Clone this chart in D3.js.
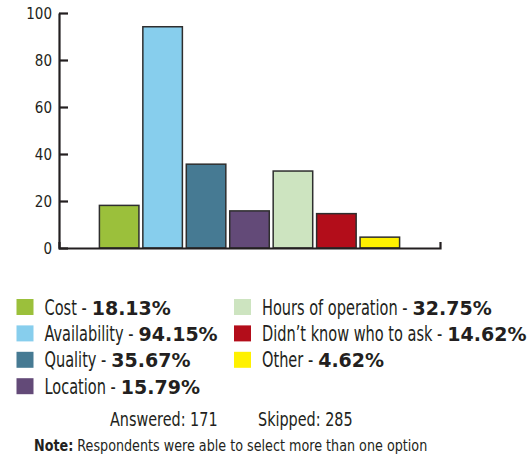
<!DOCTYPE html>
<html>
<head>
<meta charset="utf-8">
<script src="https://cdn.jsdelivr.net/npm/d3@7"></script>
<style>
  body { margin: 0; background: #fff; }
  svg text { fill: #231f20; }
  .cond { font-family: "DejaVu Sans Condensed", "DejaVu Sans", sans-serif; }
  .bold { font-family: "DejaVu Sans", sans-serif; font-weight: 700; }
</style>
</head>
<body>
<div class="chart"></div>
<script>
const categories = ['Cost', 'Availability', 'Quality', 'Location', 'Hours of operation', 'Didn\u2019t know who to ask', 'Other']
const values = [18.13, 94.15, 35.67, 15.79, 32.75, 14.62, 4.62]
const colours = ['#9bc03b', '#87ceed', '#467a93', '#634a78', '#cde4c0', '#b30d1a', '#fff100']
const yTicks = [0, 20, 40, 60, 80, 100]
const answered = 171
const skipped = 285

const width = 528, height = 455
const squeezeX = 0.77   // narrow the condensed face a bit more

const svg = d3.select('.chart').append('svg')
    .attr('width', width)
    .attr('height', height)

const xScale = d3.scaleBand()
    .domain(categories)
    .range([59, 440])
    .paddingInner(0.09)
    .paddingOuter(0.93)

const yScale = d3.scaleLinear()
    .domain([0, 100])
    .range([248, 13])

// bars
svg.selectAll('.bar')
    .data(categories)
    .enter().append('rect')
    .attr('class', 'bar')
    .attr('x', d => xScale(d))
    .attr('y', (d, i) => yScale(values[i]))
    .attr('width', xScale.bandwidth())
    .attr('height', (d, i) => yScale(0) - yScale(values[i]))
    .style('fill', (d, i) => colours[i])
    .style('stroke', '#2e2e2e')
    .style('stroke-width', 1.5)

// y axis, ticks point inward
const yAxis = d3.axisLeft(yScale)
    .tickValues(yTicks)
    .tickSizeInner(-9)
    .tickSizeOuter(0)
    .tickPadding(7)
const gY = svg.append('g')
    .attr('transform', 'translate(59,0)')
    .call(yAxis)
gY.selectAll('text')
    .attr('class', 'cond')
    .style('font-size', '15px')
    .attr('dy', '0.36em')

// baseline with small end tick
const xAxis = d3.axisBottom(xScale)
    .tickValues([])
    .tickSizeOuter(-6)
svg.append('g')
    .attr('transform', `translate(0,${yScale(0)})`)
    .call(xAxis)

svg.selectAll('.domain').style('stroke', '#231f20').style('stroke-width', 2.2)
svg.selectAll('.tick line').style('stroke', '#231f20').style('stroke-width', 2.2)

// condensed text helper, returns drawn width
function narrowText(parent, x, y, str, size, weight, k) {
    let t = parent.append('text')
        .attr('class', 'cond')
        .attr('transform', `translate(${x},${y}) scale(${k},1)`)
        .style('font-size', size + 'px')
        .style('font-weight', weight || 400)
        .text(str)
    return t.node().getComputedTextLength() * k
}

// legend
const legend = svg.append('g')
const colX = [16.5, 234]
categories.forEach((c, i) => {
    let col = i < 4 ? 0 : 1
    let row = i < 4 ? i : i - 4
    let x = colX[col]
    let y = 299 + row * 26.4
    legend.append('rect')
        .attr('x', x)
        .attr('y', y)
        .attr('width', 17)
        .attr('height', 16)
        .style('fill', colours[i])
    let w = narrowText(legend, x + 28, y + 15.5, c + ' -', 21, 400, squeezeX)
    legend.append('text')
        .attr('class', 'bold')
        .attr('x', x + 28 + w + 5)
        .attr('y', y + 15.5)
        .style('font-size', '19px')
        .text(values[i].toFixed(2) + '%')
})

narrowText(svg, 110, 425.5, `Answered: ${answered}`, 20, 400, 0.8)
narrowText(svg, 258, 425.5, `Skipped: ${skipped}`, 20, 400, 0.8)

let nw = narrowText(svg, 34, 451, 'Note:', 16.5, 700, 0.86)
narrowText(svg, 34 + nw + 4, 451, 'Respondents were able to select more than one option', 16.5, 400, 0.86)
</script>
</body>
</html>
